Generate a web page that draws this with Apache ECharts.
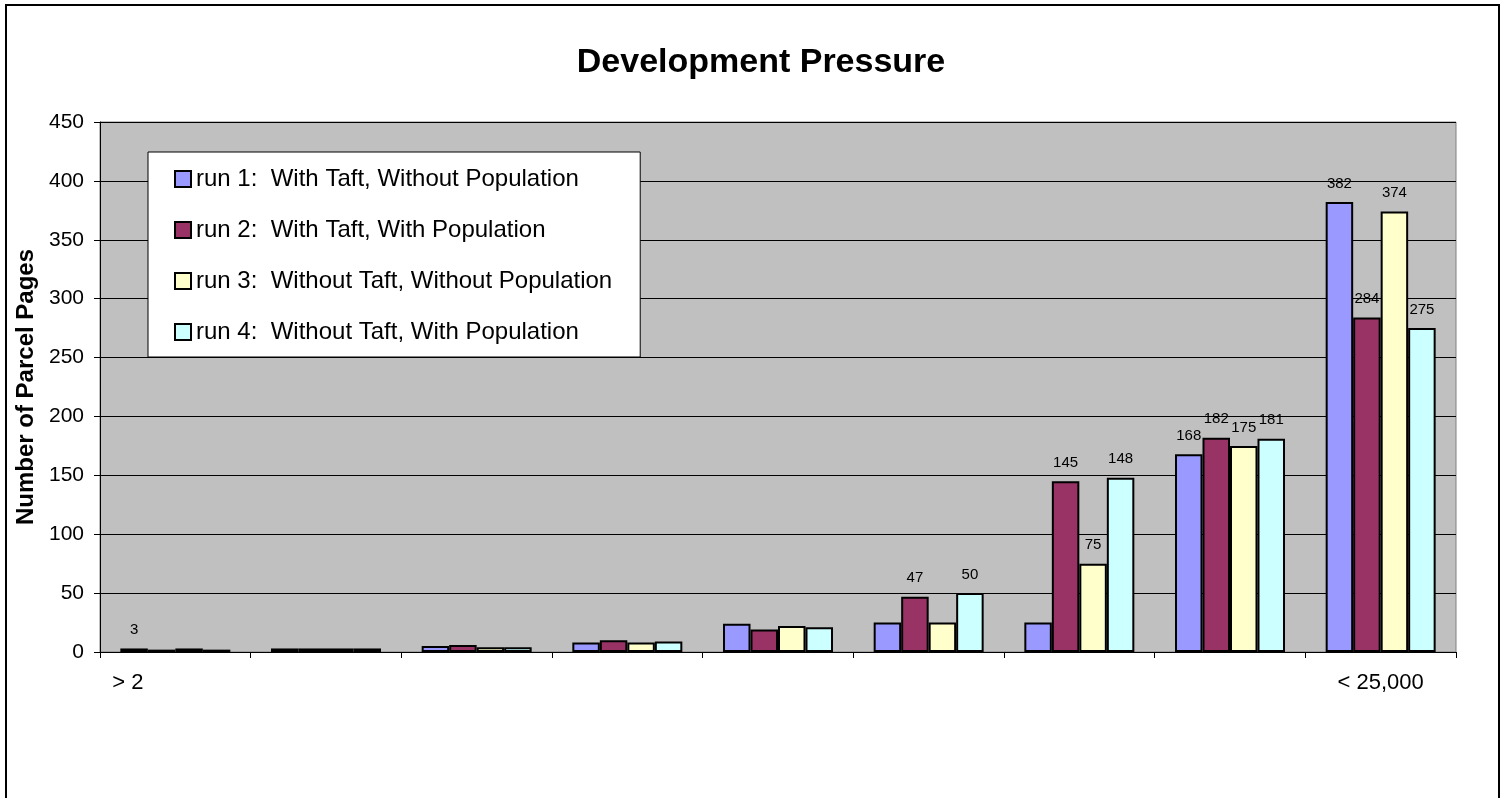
<!DOCTYPE html>
<html>
<head>
<meta charset="utf-8">
<title>Development Pressure</title>
<script src="https://cdn.jsdelivr.net/npm/echarts@6/dist/echarts.min.js"></script>
<style>
  html, body { margin: 0; padding: 0; background: #ffffff; }
  #chart { width: 1502px; height: 798px; }
</style>
</head>
<body>
<div id="chart"></div>
<script>
// Category bins (only the outer bins carry a printed label)
const categories = ['1', '2', '3', '4', '5', '6', '7', '8', '9'];
const tickLabels = ['> 2', '', '', '', '', '', '', '', '< 25,000'];

const seriesNames = [
  'run 1:  With Taft, Without Population',
  'run 2:  With Taft, With Population',
  'run 3:  Without Taft, Without Population',
  'run 4:  Without Taft, With Population'
];

// Number of parcel pages per bin, one array per run
const run1 = [3, 3, 5, 8, 24, 25, 25, 168, 382];
const run2 = [2, 3, 6, 10, 19, 47, 145, 182, 284];
const run3 = [3, 3, 4, 8, 22, 25, 75, 175, 374];
const run4 = [2, 3, 4, 9, 21, 50, 148, 181, 275];

// Which bars print their value above them
const labeled1 = [true, false, false, false, false, false, false, true, true];
const labeled2 = [false, false, false, false, false, true, true, true, true];
const labeled3 = [false, false, false, false, false, false, true, true, true];
const labeled4 = [false, false, false, false, false, true, true, true, true];

const colors = ['#9999FF', '#993366', '#FFFFCC', '#CCFFFF'];
const runs = [run1, run2, run3, run4];
const flags = [labeled1, labeled2, labeled3, labeled4];

const FONT = 'Arial, "Liberation Sans", sans-serif';

const chart = echarts.init(document.getElementById('chart'), null, { renderer: 'canvas' });

const series = runs.map((vals, s) => ({
  name: seriesNames[s],
  type: 'bar',
  barGap: '0%',
  barCategoryGap: '27%',
  itemStyle: { color: colors[s], borderColor: '#000000', borderWidth: 2 },
  label: {
    position: 'top',
    distance: 11,
    color: '#000000',
    fontFamily: FONT,
    fontSize: 15
  },
  data: vals.map((v, i) => ({ value: v, label: { show: flags[s][i] } }))
}));

chart.setOption({
  animation: false,
  backgroundColor: '#ffffff',
  title: {
    text: 'Development Pressure',
    left: 756,
    top: 41,
    textAlign: 'center',
    textStyle: { fontFamily: FONT, fontSize: 34, fontWeight: 'bold', color: '#000000' }
  },
  color: colors,
  legend: {
    orient: 'vertical',
    left: 148,
    top: 152,
    padding: [15, 28, 13, 26],
    itemGap: 27,
    itemWidth: 16,
    itemHeight: 16,
    backgroundColor: '#ffffff',
    borderColor: '#000000',
    borderWidth: 1,
    icon: 'rect',
    textStyle: { fontFamily: FONT, fontSize: 24, color: '#000000' },
    data: seriesNames
  },
  grid: {
    left: 100,
    right: 46,
    top: 122,
    bottom: 146,
    show: true,
    backgroundColor: '#C0C0C0',
    borderColor: '#808080',
    borderWidth: 1
  },
  xAxis: {
    type: 'category',
    data: categories,
    axisLine: { show: true, lineStyle: { color: '#000000', width: 1 } },
    axisTick: { show: true, alignWithLabel: false, length: 6, lineStyle: { color: '#000000' } },
    axisLabel: {
      interval: 0,
      margin: 20,
      fontFamily: FONT,
      fontSize: 22,
      color: '#000000',
      formatter: (v, i) => i === 0 ? '{first|' + tickLabels[i] + '}' : tickLabels[i],
      rich: {
        first: { fontFamily: FONT, fontSize: 22, color: '#000000', padding: [0, 95, 0, 0] }
      }
    },
    splitLine: { show: false }
  },
  yAxis: {
    type: 'value',
    min: 0,
    max: 450,
    interval: 50,
    name: 'Number of Parcel Pages',
    nameLocation: 'middle',
    nameGap: 55,
    nameTextStyle: { fontFamily: FONT, fontSize: 24, fontWeight: 'bold', color: '#000000' },
    axisLine: { show: true, lineStyle: { color: '#000000', width: 1 } },
    axisTick: { show: true, length: 6, lineStyle: { color: '#000000' } },
    axisLabel: { margin: 16, fontFamily: FONT, fontSize: 21, color: '#000000' },
    splitLine: { show: true, lineStyle: { color: '#000000', width: 1 } }
  },
  graphic: [{
    type: 'rect',
    silent: true,
    shape: { x: 6, y: 5, width: 1493, height: 810 },
    style: { fill: 'none', stroke: '#000000', lineWidth: 2 }
  }],
  series: series
});
</script>
</body>
</html>
